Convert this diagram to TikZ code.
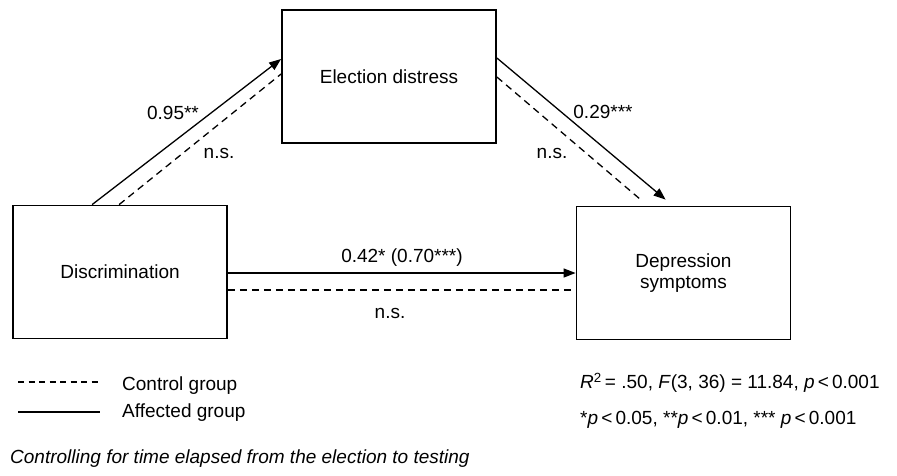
\documentclass[tikz,border=0pt]{standalone}
\usepackage{fontspec}
\setmainfont{Liberation Sans}
\usetikzlibrary{arrows.meta,calc}
\begin{document}
\begin{tikzpicture}[x=1pt,y=-1pt,
  every node/.style={font=\fontsize{19}{21.5}\selectfont,inner sep=0pt},
  varbox/.style={draw,line width=1.8pt,minimum width=214pt,minimum height=133pt,align=center},
  solidpath/.style={line width=1.3pt,-{Triangle[length=12pt,width=9pt]}},
  dashpath/.style={line width=1.3pt,dash pattern=on 7pt off 5pt},
  lbl/.style={anchor=center},
  lefttext/.style={anchor=west}]
\useasboundingbox (0,0) rectangle (897,475);
\node[varbox] (elec) at (389,76.5) {Election distress};
\node[varbox] (disc) at (120,272) {Discrimination};
\node[varbox,text width=200pt] (dep) at (683.5,273) {Depression\\symptoms};
% paths
\draw[solidpath] ([xshift=80pt]disc.north west) -- ([yshift=17.5pt]elec.west);
\draw[dashpath] ([xshift=107pt]disc.north west) -- ([yshift=2.5pt]elec.west);
\draw[solidpath] ([yshift=18.5pt]elec.east) -- ([xshift=90pt,yshift=6pt]dep.north west);
\draw[dashpath] ([yshift=-0.5pt]elec.east) -- ([xshift=65pt,yshift=6pt]dep.north west);
\draw[solidpath] ([yshift=-1pt]disc.east) -- ([yshift=-0pt]dep.west);
\draw[dashpath] ([yshift=-18pt]disc.east) -- ([xshift=-5pt,yshift=-17pt]dep.west);
% labels
\node[lbl] (l1) at (173,113) {0.95**};
\node[lbl] (l2) at (219,153) {n.s.};
\node[lbl] (l3) at (603,112) {0.29***};
\node[lbl] (l4) at (552,153) {n.s.};
\node[lbl] (l5) at (402,258) {0.42* (0.70***)};
\node[lbl] (l6) at (390,313) {n.s.};
% legend
\coordinate (c1a) at (18,382);
\coordinate (c1b) at (100,382);
\coordinate (c2a) at (18,412);
\coordinate (c2b) at (100,412);
\draw[line width=1.3pt,dash pattern=on 6pt off 4.5pt] (c1a) -- (c1b);
\draw[line width=1.5pt] (c2a) -- (c2b);
\node[lefttext] (t1) at (122,386) {Control group};
\node[lefttext] (t2) at (122,413) {Affected group};
\node[lefttext] (t3) at (580,383) {\textit{R}\textsuperscript{2}\,= .50, \textit{F}(3, 36) = 11.84, \textit{p}\,{<}\,0.001};
\node[lefttext] (t4) at (580,420) {*\textit{p}\,{<}\,0.05, **\textit{p}\,{<}\,0.01, *** \textit{p}\,{<}\,0.001};
\node[lefttext] (t5) at (10,459) {\textit{Controlling for time elapsed from the election to testing}};
\end{tikzpicture}
\end{document}
